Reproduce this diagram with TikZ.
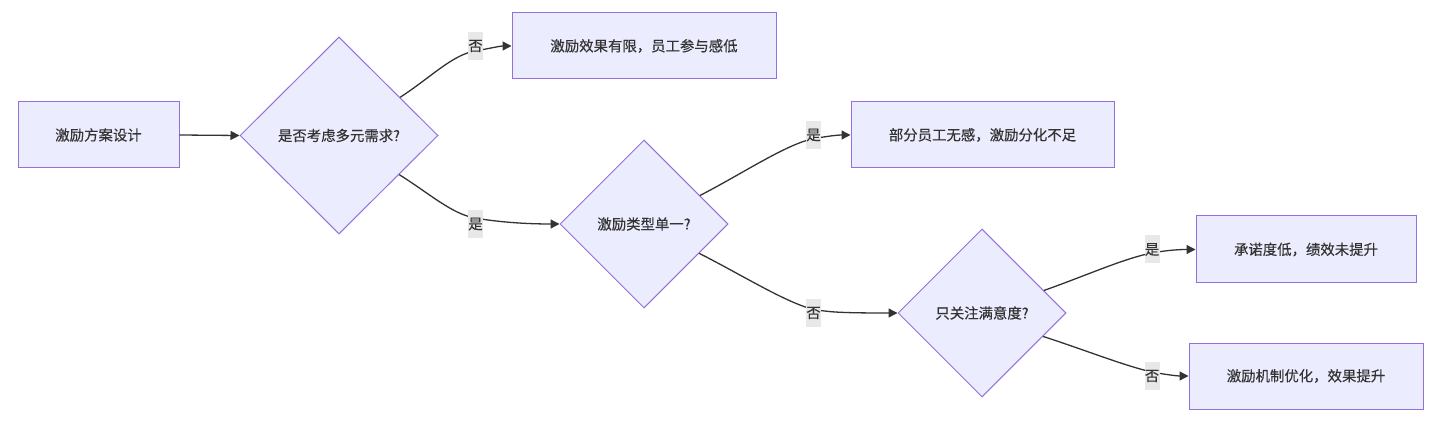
\documentclass[tikz,border=0pt]{standalone}
\usepackage{fontspec}
\setmainfont{Noto Sans CJK SC}[FakeBold=0.3]
\usetikzlibrary{shapes.geometric,arrows.meta}
\definecolor{nfill}{HTML}{ECECFF}
\definecolor{nline}{HTML}{9370DB}
\definecolor{eline}{HTML}{333333}
\definecolor{lblbg}{HTML}{E8E8E8}
\tikzset{
  box/.style={draw=nline,fill=nfill,line width=1pt,rectangle,inner sep=0pt,text=eline,font=\fontsize{14.4}{17}\selectfont},
  dia/.style={draw=nline,fill=nfill,line width=1pt,diamond,aspect=1,inner sep=0pt,text=eline,font=\fontsize{14.4}{17}\selectfont},
  lbl/.style={fill=lblbg,inner xsep=0.3pt,inner ysep=0pt,minimum height=28pt,text=eline,font=\fontsize{14.4}{17}\selectfont},
  arr/.style={draw=eline,line width=1.3pt,-{Triangle[length=9pt,width=9pt]}}
}
\begin{document}
\begin{tikzpicture}[x=1pt,y=-1pt]
\useasboundingbox (0,0) rectangle (1435,430);
\node[box,minimum width=161pt,minimum height=66pt] (A) at (98.5,135) {激励方案设计};
\node[dia,minimum width=198pt,minimum height=197pt] (B) at (339,135.5) {是否考虑多元需求?};
\node[box,minimum width=264pt,minimum height=66pt] (C) at (644,46) {激励效果有限，员工参与感低};
\node[dia,minimum width=168pt,minimum height=168pt] (D) at (644,224) {激励类型单一?};
\node[box,minimum width=263pt,minimum height=66pt] (E) at (982.5,135) {部分员工无感，激励分化不足};
\node[dia,minimum width=168pt,minimum height=168pt] (F) at (982,313) {只关注满意度?};
\node[box,minimum width=220pt,minimum height=67pt] (G) at (1306,249.5) {承诺度低，绩效未提升};
\node[box,minimum width=234pt,minimum height=66pt] (H) at (1306,376) {激励机制优化，效果提升};

\draw[arr] (A.east) -- (B.west);
\draw[arr] (B.32) .. controls (430,78) and (452,55) .. (475,51) .. controls (492,48) and (500,46) .. (C.west);
\draw[arr] (B.-33) .. controls (430,194) and (452,214) .. (475,218) .. controls (498,222) and (525,224) .. (D.west);
\draw[arr] (D.27) .. controls (740,175) and (785,145) .. (812,139) .. controls (828,136) and (838,135) .. (E.west);
\draw[arr] (D.-28) .. controls (740,274) and (785,302) .. (812,309) .. controls (828,312) and (838,313) .. (F.west);
\draw[arr] (F.20) .. controls (1085,276) and (1125,258) .. (1152,253) .. controls (1168,250) and (1180,249.5) .. (G.west);
\draw[arr] (F.-21) .. controls (1085,350) and (1125,366) .. (1152,372) .. controls (1168,375) and (1178,376) .. (H.west);

\node[lbl] (l1) at (475.5,46) {否};
\node[lbl] (l2) at (475.5,224) {是};
\node[lbl] (l3) at (813.5,135) {是};
\node[lbl] (l4) at (813.5,313) {否};
\node[lbl] (l5) at (1152,249.5) {是};
\node[lbl] (l6) at (1152,376) {否};
\end{tikzpicture}
\end{document}
